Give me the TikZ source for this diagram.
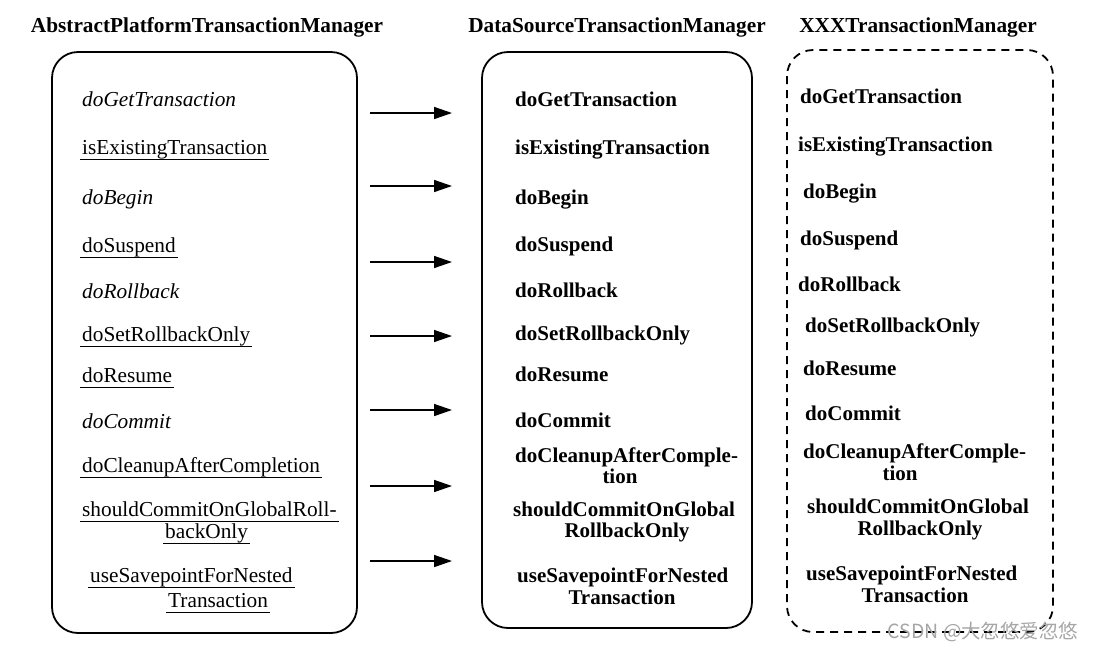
\documentclass[tikz,border=0pt]{standalone}
\usepackage{fontspec}
\setmainfont{Liberation Serif}
\newfontfamily\cjk{Noto Sans CJK SC}
\usetikzlibrary{arrows.meta}
\begin{document}
\begin{tikzpicture}[x=1pt,y=-1pt,
  box/.style={draw, line width=1.8pt, rounded corners=26pt},
  dbox/.style={box, dash pattern=on 8pt off 6pt},
  title/.style={font=\fontsize{21.3}{24}\selectfont\bfseries, inner sep=0pt},
  itm/.style={font=\fontsize{21.3}{24}\selectfont, anchor=west, inner xsep=2pt, inner ysep=0pt, text height=14pt, text depth=5pt, yshift=-2.5pt},
  ital/.style={itm, font=\fontsize{21.3}{24}\selectfont\itshape},
  bitm/.style={itm, font=\fontsize{21}{24}\selectfont\bfseries},
  ul/.style={line width=1.1pt},
  arr/.style={-{Triangle[length=18pt,width=12pt]}, line width=1.5pt},
]
\useasboundingbox (0,0) rectangle (1094,649);
% titles
\node[title] (tl) at (207,27) {AbstractPlatformTransactionManager};
\node[title] (tm) at (617,27) {DataSourceTransactionManager};
\node[title] (tr) at (918,27) {XXXTransactionManager};
% boxes
\draw[box] (52,52) rectangle (357,633);
\draw[dbox] (787,50) rectangle (1053,632);
\draw[box] (482,52) rectangle (752,628);
\coordinate (bl) at (357,0);
\coordinate (bm) at (482,0);
% left column
\node[ital] (l1) at (80,99) {doGetTransaction};
\node[itm] (l2) at (80,147) {isExistingTransaction};
\node[ital] (l3) at (80,197) {doBegin};
\node[itm] (l4) at (80,245) {doSuspend};
\node[ital] (l5) at (80,291) {doRollback};
\node[itm] (l6) at (80,334) {doSetRollbackOnly};
\node[itm] (l7) at (80,375) {doResume};
\node[ital] (l8) at (80,421) {doCommit};
\node[itm] (l9) at (80,465) {doCleanupAfterCompletion};
\node[itm] (l10a) at (80,509) {shouldCommitOnGlobalRoll-};
\node[itm] (l10b) at (163,531) {backOnly};
\node[itm] (l11a) at (88,575) {useSavepointForNested};
\node[itm] (l11b) at (166,600) {Transaction};
\foreach \n in {l2,l4,l6,l7,l9,l10a,l10b,l11a,l11b}
  \draw[ul] (\n.south west) -- (\n.south east);
% middle column
\node[bitm] (m1) at (513,99) {doGetTransaction};
\node[bitm] (m2) at (513,147) {isExistingTransaction};
\node[bitm] (m3) at (513,197) {doBegin};
\node[bitm] (m4) at (513,244) {doSuspend};
\node[bitm] (m5) at (513,290) {doRollback};
\node[bitm] (m6) at (513,333) {doSetRollbackOnly};
\node[bitm] (m7) at (513,374) {doResume};
\node[bitm] (m8) at (513,420) {doCommit};
\node[bitm] (m9a) at (513,455) {doCleanupAfterComple-};
\node[bitm,anchor=center] (m9b) at (620,476) {tion};
\node[bitm] (m10a) at (511,509) {shouldCommitOnGlobal};
\node[bitm,anchor=center] (m10b) at (627,530) {RollbackOnly};
\node[bitm] (m11a) at (515,575) {useSavepointForNested};
\node[bitm,anchor=center] (m11b) at (622,597) {Transaction};
% right column
\node[bitm] (r1) at (798,96) {doGetTransaction};
\node[bitm] (r2) at (796,144) {isExistingTransaction};
\node[bitm] (r3) at (801,191) {doBegin};
\node[bitm] (r4) at (798,238) {doSuspend};
\node[bitm] (r5) at (796,284) {doRollback};
\node[bitm] (r6) at (803,325) {doSetRollbackOnly};
\node[bitm] (r7) at (801,368) {doResume};
\node[bitm] (r8) at (803,413) {doCommit};
\node[bitm] (r9a) at (801,451) {doCleanupAfterComple-};
\node[bitm,anchor=center] (r9b) at (900,473) {tion};
\node[bitm] (r10a) at (805,506) {shouldCommitOnGlobal};
\node[bitm,anchor=center] (r10b) at (920,528) {RollbackOnly};
\node[bitm] (r11a) at (804,573) {useSavepointForNested};
\node[bitm,anchor=center] (r11b) at (915,595) {Transaction};
% arrows
\foreach \y in {113,186,262,336,410,486,561}
  \draw[arr] ([xshift=13pt]bl |- 0,\y) -- ([xshift=-30pt]bm |- 0,\y);
% watermark
\node[font=\cjk\fontsize{19.5}{22}\selectfont, text=black!35, anchor=east] (wm) at (1082,632) {CSDN @大忽悠爱忽悠};
\end{tikzpicture}
\end{document}
